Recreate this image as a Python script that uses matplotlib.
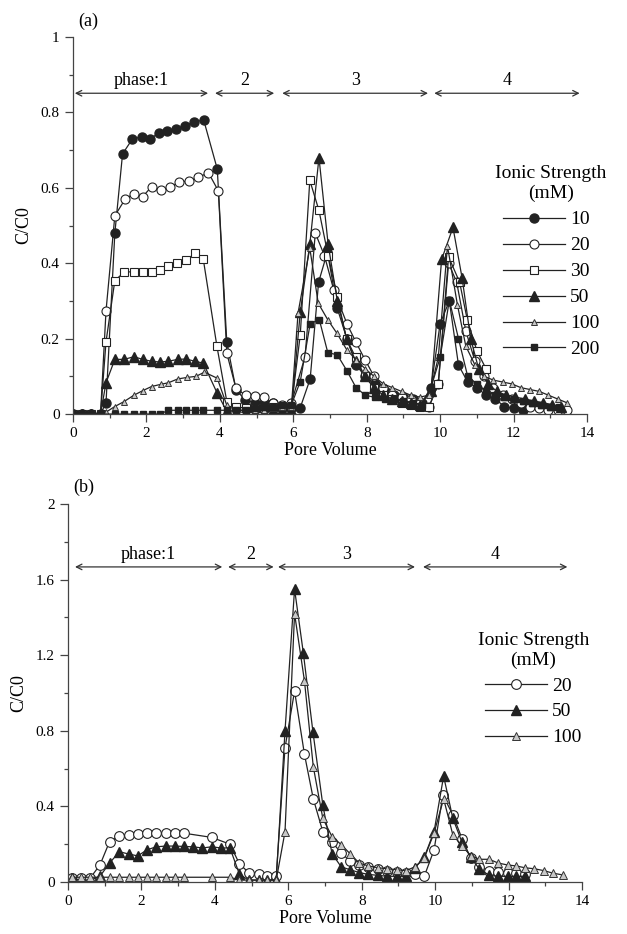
import matplotlib
matplotlib.use('Agg')
import matplotlib.pyplot as plt
from matplotlib.ticker import MultipleLocator

plt.rcParams['font.family'] = ['Liberation Serif', 'DejaVu Serif']

# ---- panel (a) data ----
x10 = [0.0, 0.25, 0.5, 0.75, 0.9, 1.14, 1.35, 1.62, 1.87, 2.1, 2.33, 2.57, 2.8, 3.05, 3.3, 3.56, 3.93, 4.19,
       4.44, 4.69, 4.95, 5.2, 5.46, 5.72, 5.95, 6.19, 6.46, 6.69, 6.93, 7.2, 7.46, 7.71, 7.96, 8.23, 8.5, 8.75,
       9.0, 9.25, 9.5, 9.75, 10.0, 10.25, 10.5, 10.75, 11.0, 11.25, 11.5, 11.75, 12.0, 12.25]
y10 = [0, 0, 0, 0, 0.03, 0.48, 0.69, 0.73, 0.735, 0.73, 0.745, 0.75, 0.755, 0.765, 0.775, 0.78, 0.65, 0.19,
       0.065, 0.037, 0.03, 0.03, 0.028, 0.022, 0.02, 0.017, 0.093, 0.35, 0.43, 0.28, 0.2, 0.13, 0.1, 0.08, 0.06,
       0.05, 0.045, 0.04, 0.03, 0.07, 0.24, 0.3, 0.13, 0.085, 0.07, 0.05, 0.04, 0.02, 0.015, 0.01]

x20 = [0.0, 0.25, 0.5, 0.75, 0.9, 1.14, 1.42, 1.66, 1.9, 2.14, 2.4, 2.64, 2.9, 3.17, 3.41, 3.69, 3.96, 4.19,
       4.44, 4.7, 4.96, 5.19, 5.45, 5.7, 5.95, 6.32, 6.6, 6.85, 7.1, 7.46, 7.71, 7.96, 8.2, 8.45, 8.7, 8.95,
       9.2, 9.45, 9.7, 9.95, 10.23, 10.45, 10.7, 10.95, 11.2, 11.45, 11.7, 11.95, 12.2, 12.45, 12.7, 12.95, 13.2, 13.45]
y20 = [0, 0, 0, 0, 0.274, 0.526, 0.57, 0.585, 0.577, 0.603, 0.594, 0.601, 0.616, 0.618, 0.628, 0.64, 0.592, 0.161,
       0.068, 0.05, 0.048, 0.044, 0.03, 0.025, 0.03, 0.152, 0.48, 0.42, 0.33, 0.24, 0.19, 0.143, 0.1, 0.07, 0.05,
       0.045, 0.04, 0.03, 0.02, 0.08, 0.4, 0.35, 0.22, 0.14, 0.1, 0.07, 0.05, 0.04, 0.03, 0.02, 0.015, 0.012, 0.01, 0.01]

x30 = [0.0, 0.25, 0.5, 0.75, 0.9, 1.14, 1.39, 1.66, 1.9, 2.14, 2.37, 2.6, 2.82, 3.08, 3.32, 3.55, 3.92, 4.19,
       4.44, 4.7, 4.95, 5.2, 5.45, 5.7, 5.95, 6.19, 6.45, 6.7, 6.95, 7.2, 7.45, 7.7, 7.95, 8.2, 8.45, 8.7, 8.95,
       9.2, 9.45, 9.7, 9.95, 10.23, 10.53, 10.74, 11.0, 11.25]
y30 = [0, 0, 0, 0, 0.192, 0.354, 0.376, 0.378, 0.377, 0.378, 0.383, 0.394, 0.4, 0.408, 0.426, 0.41, 0.18, 0.033,
       0.02, 0.015, 0.015, 0.015, 0.018, 0.02, 0.02, 0.21, 0.62, 0.54, 0.42, 0.31, 0.2, 0.15, 0.1, 0.07, 0.05,
       0.04, 0.03, 0.025, 0.02, 0.02, 0.08, 0.417, 0.35, 0.25, 0.168, 0.12]

x50 = [0.0, 0.25, 0.5, 0.75, 0.9, 1.14, 1.39, 1.66, 1.9, 2.14, 2.37, 2.6, 2.85, 3.08, 3.32, 3.55, 3.92, 4.19,
       4.44, 4.7, 4.95, 5.2, 5.45, 5.7, 5.95, 6.19, 6.45, 6.7, 6.95, 7.2, 7.45, 7.7, 7.95, 8.2, 8.45, 8.7, 8.95,
       9.2, 9.45, 9.75, 10.04, 10.35, 10.6, 10.83, 11.05, 11.3, 11.55, 11.8, 12.05, 12.3, 12.55, 12.8, 13.05, 13.3]
y50 = [0, 0, 0, 0, 0.083, 0.145, 0.145, 0.152, 0.145, 0.14, 0.138, 0.14, 0.145, 0.146, 0.14, 0.135, 0.057, 0.007,
       0.005, 0.005, 0.005, 0.005, 0.01, 0.01, 0.01, 0.27, 0.45, 0.68, 0.45, 0.3, 0.2, 0.14, 0.1, 0.07, 0.05,
       0.04, 0.035, 0.03, 0.025, 0.06, 0.41, 0.495, 0.36, 0.2, 0.12, 0.08, 0.06, 0.05, 0.045, 0.04, 0.035, 0.03, 0.025, 0.02]

x100 = [0.0, 0.25, 0.5, 0.75, 0.9, 1.14, 1.39, 1.66, 1.9, 2.14, 2.4, 2.6, 2.85, 3.1, 3.35, 3.58, 3.93, 4.19,
        4.44, 4.7, 4.95, 5.2, 5.45, 5.7, 5.95, 6.13, 6.45, 6.68, 6.94, 7.19, 7.46, 7.71, 7.96, 8.2, 8.45, 8.7,
        8.95, 9.2, 9.45, 9.7, 9.95, 10.2, 10.47, 10.7, 10.95, 11.2, 11.45, 11.7, 11.95, 12.2, 12.45, 12.7, 12.95,
        13.2, 13.45]
y100 = [0, 0, 0, 0, 0.005, 0.02, 0.033, 0.05, 0.062, 0.073, 0.079, 0.083, 0.093, 0.097, 0.1, 0.111, 0.095, 0.023,
        0.01, 0.01, 0.01, 0.01, 0.015, 0.02, 0.02, 0.268, 0.44, 0.294, 0.25, 0.214, 0.17, 0.144, 0.12, 0.1, 0.08,
        0.07, 0.06, 0.05, 0.045, 0.05, 0.15, 0.446, 0.29, 0.18, 0.13, 0.1, 0.09, 0.085, 0.08, 0.07, 0.065, 0.06,
        0.05, 0.04, 0.03]

x200 = [0.0, 0.25, 0.5, 0.75, 1.14, 1.39, 1.66, 1.9, 2.14, 2.37, 2.6, 2.85, 3.08, 3.32, 3.55, 3.92, 4.19,
        4.44, 4.7, 4.95, 5.2, 5.45, 5.7, 5.95, 6.19, 6.46, 6.71, 6.94, 7.2, 7.46, 7.71, 7.96, 8.23, 8.5, 8.75,
        9.0, 9.25, 9.5, 9.75, 10.0, 10.25, 10.5, 10.75, 11.0, 11.25, 11.5, 11.75, 12.0, 12.25, 12.5, 12.75, 13.0, 13.25]
y200 = [0, 0, 0, 0, 0, 0, 0, 0, 0, 0, 0.01, 0.01, 0.01, 0.01, 0.01, 0.01, 0.01,
        0.01, 0.01, 0.015, 0.02, 0.02, 0.025, 0.025, 0.086, 0.24, 0.25, 0.163, 0.157, 0.115, 0.07, 0.05, 0.044,
        0.04, 0.04, 0.035, 0.03, 0.025, 0.07, 0.15, 0.302, 0.2, 0.1, 0.08, 0.06, 0.05, 0.045, 0.04, 0.035,
        0.03, 0.025, 0.02, 0.02]

# ---- panel (b) data ----
xb20 = [0.1, 0.35, 0.6, 0.87, 1.13, 1.4, 1.65, 1.9, 2.15, 2.4, 2.66, 2.9, 3.16, 3.91, 4.41, 4.67, 4.92, 5.19,
        5.42, 5.67, 5.91, 6.17, 6.44, 6.68, 6.94, 7.19, 7.44, 7.68, 7.93, 8.18, 8.45, 8.7, 8.95, 9.2, 9.45, 9.7,
        9.97, 10.21, 10.48, 10.73, 10.97, 11.2, 11.47, 11.72, 11.97, 12.2, 12.45]
yb20 = [0.02, 0.02, 0.02, 0.09, 0.213, 0.243, 0.25, 0.254, 0.257, 0.257, 0.257, 0.257, 0.258, 0.236, 0.2, 0.095,
        0.05, 0.04, 0.03, 0.03, 0.71, 1.01, 0.675, 0.44, 0.266, 0.213, 0.152, 0.113, 0.09, 0.077, 0.067, 0.06,
        0.055, 0.05, 0.043, 0.029, 0.17, 0.46, 0.355, 0.23, 0.125, 0.08, 0.06, 0.055, 0.05, 0.05, 0.044]

xb50 = [0.1, 0.35, 0.6, 0.87, 1.13, 1.4, 1.65, 1.9, 2.15, 2.4, 2.66, 2.9, 3.16, 3.4, 3.66, 3.91, 4.17, 4.41,
        4.67, 4.92, 5.19, 5.42, 5.67, 5.91, 6.17, 6.41, 6.67, 6.94, 7.19, 7.44, 7.68, 7.93, 8.18, 8.45, 8.7, 8.95,
        9.2, 9.45, 9.7, 9.97, 10.23, 10.48, 10.73, 10.97, 11.2, 11.47, 11.72, 11.97, 12.2, 12.45]
yb50 = [0.02, 0.01, 0.01, 0.03, 0.1, 0.16, 0.148, 0.138, 0.17, 0.186, 0.19, 0.19, 0.188, 0.186, 0.18, 0.186,
        0.18, 0.18, 0.04, 0.01, 0.01, 0.01, 0.01, 0.8, 1.55, 1.21, 0.795, 0.407, 0.15, 0.08, 0.065, 0.05, 0.04,
        0.035, 0.03, 0.03, 0.03, 0.075, 0.13, 0.267, 0.56, 0.337, 0.21, 0.13, 0.07, 0.035, 0.03, 0.03, 0.03, 0.03]

xb100 = [0.1, 0.35, 0.6, 0.87, 1.13, 1.4, 1.65, 1.9, 2.15, 2.4, 2.66, 2.9, 3.16, 3.91, 4.41, 4.67, 4.92, 5.19,
         5.42, 5.67, 5.91, 6.17, 6.44, 6.68, 6.94, 7.19, 7.44, 7.68, 7.93, 8.18, 8.45, 8.7, 8.95, 9.2, 9.45, 9.7,
         9.97, 10.23, 10.48, 10.73, 10.97, 11.2, 11.47, 11.72, 11.97, 12.2, 12.45, 12.7, 12.96, 13.2, 13.48]
yb100 = [0.025, 0.025, 0.025, 0.025, 0.025, 0.025, 0.025, 0.025, 0.025, 0.025, 0.025, 0.025, 0.025, 0.025, 0.025,
         0.01, 0.01, 0.01, 0.01, 0.01, 0.266, 1.42, 1.063, 0.61, 0.336, 0.24, 0.198, 0.15, 0.1, 0.085, 0.075, 0.07,
         0.065, 0.06, 0.08, 0.125, 0.26, 0.44, 0.25, 0.19, 0.14, 0.12, 0.12, 0.1, 0.09, 0.085, 0.075, 0.07, 0.06,
         0.047, 0.037]

phase_labels = ['phase:1', '2', '3', '4']
phases_a = [(0.05, 3.68), (3.87, 5.48), (5.7, 9.67), (9.84, 13.8)]
phases_b = [(0.19, 4.2), (4.36, 5.6), (5.72, 9.45), (9.67, 13.6)]

K = '#222222'
styles = {
    '10': dict(marker='o', ms=6.5, mfc=K, mec=K),
    '20': dict(marker='o', ms=6.5, mfc='white', mec=K, mew=0.8),
    '30': dict(marker='s', ms=6, mfc='white', mec=K, mew=0.8),
    '50': dict(marker='^', ms=6.5, mfc=K, mec=K),
    '100': dict(marker='^', ms=4.5, mfc='#c8c8c8', mec='#333333', mew=0.7),
    '200': dict(marker='s', ms=5, mfc=K, mec=K),
}

fig = plt.figure(figsize=(6.27, 9.34), dpi=100)
ax1 = fig.add_axes([0.1164, 0.5567, 0.8198, 0.4036])
ax2 = fig.add_axes([0.1085, 0.0557, 0.8198, 0.4047])


def style_axes(ax, ymax, ystep):
    ax.set_xlim(0, 14)
    ax.set_ylim(0, ymax)
    ax.spines['top'].set_visible(False)
    ax.spines['right'].set_visible(False)
    for s in ['left', 'bottom']:
        ax.spines[s].set_color('#444444')
        ax.spines[s].set_linewidth(0.9)
    ax.xaxis.set_major_locator(MultipleLocator(2))
    ax.xaxis.set_minor_locator(MultipleLocator(1))
    ax.yaxis.set_major_locator(MultipleLocator(ystep))
    ax.yaxis.set_minor_locator(MultipleLocator(ystep / 2))
    ax.yaxis.set_major_formatter(plt.FuncFormatter(lambda v, p: '%g' % round(v, 2)))
    ax.tick_params(which='major', direction='out', length=6, width=0.9, color='#444444', labelsize=11)
    ax.tick_params(which='minor', direction='out', length=3, width=0.9, color='#444444')
    ax.set_xlabel('Pore Volume', fontsize=13, labelpad=1)
    ax.set_ylabel('C/C0', fontsize=13, labelpad=6)


def draw_phases(ax, spans, y, dy):
    for (a, b), lab in zip(spans, phase_labels):
        ax.annotate('', xy=(b, y), xytext=(a, y),
                    arrowprops=dict(arrowstyle='<->', lw=0.9, color='#333333',
                                    shrinkA=0, shrinkB=0, mutation_scale=10))
        ax.text((a + b) / 2, y + dy, lab, ha='center', va='bottom', fontsize=13)


style_axes(ax1, 1, 0.2)
for xs, ys, lab in [(x10, y10, '10'), (x20, y20, '20'), (x30, y30, '30'),
                    (x50, y50, '50'), (x100, y100, '100'), (x200, y200, '200')]:
    ax1.plot(xs, ys, color=K, lw=0.9, label=lab, **styles[lab])
draw_phases(ax1, phases_a, 0.851, 0.01)
ax1.text(0.01, 1.02, '(a)', transform=ax1.transAxes, fontsize=13, va='bottom')
leg1 = ax1.legend(title='Ionic Strength\n(mM)', frameon=False, fontsize=14, title_fontsize=14,
                  loc='upper center', bbox_to_anchor=(0.93, 0.68), handlelength=3.2,
                  handletextpad=0.25, labelspacing=0.43, borderaxespad=0)
leg1.get_title().set_multialignment('center')

style_axes(ax2, 2, 0.4)
for xs, ys, lab in [(xb20, yb20, '20'), (xb50, yb50, '50'), (xb100, yb100, '100')]:
    st = dict(styles[lab])
    st['ms'] = 5.5 if lab == '100' else 7
    ax2.plot(xs, ys, color=K, lw=0.9, label=lab, **st)
draw_phases(ax2, phases_b, 1.667, 0.02)
ax2.text(0.01, 1.02, '(b)', transform=ax2.transAxes, fontsize=13, va='bottom')
leg2 = ax2.legend(title='Ionic Strength\n(mM)', frameon=False, fontsize=14, title_fontsize=14,
                  loc='upper center', bbox_to_anchor=(0.905, 0.683), handlelength=3.2,
                  handletextpad=0.25, labelspacing=0.43, borderaxespad=0)
leg2.get_title().set_multialignment('center')

fig.savefig('out.png', dpi=100)
